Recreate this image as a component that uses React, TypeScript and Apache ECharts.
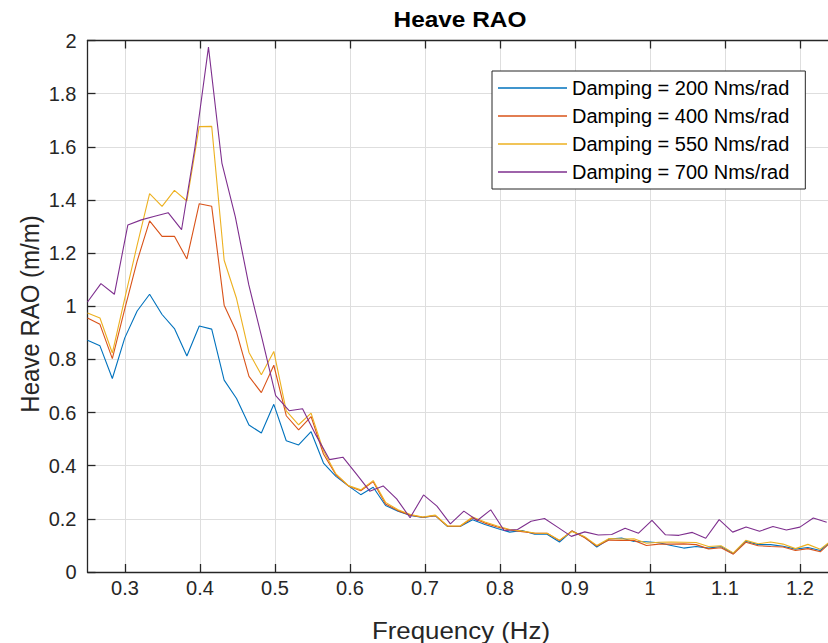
import React, { useEffect, useRef } from 'react';
import * as echarts from 'echarts';

// Frequencies (Hz) of the 200/400/550 Nms/rad runs
const freqA = [
  0.25, 0.2666, 0.2831, 0.2997, 0.3162, 0.3328, 0.3494, 0.3659, 0.3825, 0.399,
  0.4156, 0.4322, 0.4487, 0.4653, 0.4818, 0.4984, 0.515, 0.5315, 0.5481, 0.5646,
  0.5812, 0.5978, 0.6143, 0.6309, 0.6474, 0.664, 0.6806, 0.6971, 0.7137, 0.7302,
  0.7468, 0.7634, 0.7799, 0.7965, 0.813, 0.8296, 0.8462, 0.8627, 0.8793, 0.8958,
  0.9124, 0.929, 0.9455, 0.9621, 0.9786, 0.9952, 1.0118, 1.0283, 1.0449, 1.0614,
  1.078, 1.0946, 1.1111, 1.1277, 1.1442, 1.1608, 1.1774, 1.1939, 1.2105, 1.227,
  1.2436,
];

// Frequencies (Hz) of the 700 Nms/rad run
const freqB = [
  0.25, 0.2679, 0.2858, 0.3038, 0.3217, 0.3396, 0.3575, 0.3754, 0.3934, 0.4113,
  0.4292, 0.4471, 0.465, 0.483, 0.5009, 0.5188, 0.5367, 0.5546, 0.5726, 0.5905,
  0.6084, 0.6263, 0.6442, 0.6622, 0.6801, 0.698, 0.7159, 0.7338, 0.7518, 0.7697,
  0.7876, 0.8055, 0.8234, 0.8414, 0.8593, 0.8772, 0.8951, 0.913, 0.931, 0.9489,
  0.9668, 0.9847, 1.0026, 1.0206, 1.0385, 1.0564, 1.0743, 1.0922, 1.1102, 1.1281,
  1.146, 1.1639, 1.1818, 1.1998, 1.2177, 1.2356,
];

const rao200 = [
  0.872, 0.851, 0.728, 0.881, 0.982, 1.045, 0.969, 0.916, 0.813, 0.926,
  0.914, 0.722, 0.653, 0.553, 0.523, 0.631, 0.494, 0.478, 0.528, 0.41,
  0.36, 0.324, 0.291, 0.319, 0.25, 0.229, 0.213, 0.205, 0.212, 0.171,
  0.171, 0.197, 0.179, 0.164, 0.15, 0.156, 0.142, 0.142, 0.113, 0.154,
  0.132, 0.094, 0.124, 0.128, 0.115, 0.114, 0.11, 0.1, 0.09, 0.096,
  0.09, 0.096, 0.07, 0.116, 0.103, 0.103, 0.097, 0.086, 0.092, 0.081,
  0.12,
];

const rao400 = [
  0.956, 0.932, 0.803, 0.99, 1.17, 1.321, 1.263, 1.263, 1.178, 1.386,
  1.376, 1.004, 0.903, 0.736, 0.675, 0.778, 0.588, 0.535, 0.585, 0.444,
  0.366, 0.324, 0.306, 0.34, 0.256, 0.231, 0.214, 0.206, 0.212, 0.172,
  0.172, 0.203, 0.184, 0.169, 0.158, 0.152, 0.146, 0.146, 0.118, 0.155,
  0.13, 0.098, 0.12, 0.119, 0.119, 0.1, 0.105, 0.105, 0.106, 0.103,
  0.087, 0.091, 0.067, 0.112, 0.099, 0.096, 0.094, 0.081, 0.088, 0.076,
  0.118,
];

const rao550 = [
  0.975, 0.956, 0.824, 1.03, 1.23, 1.424, 1.376, 1.436, 1.396, 1.676,
  1.677, 1.173, 1.029, 0.826, 0.742, 0.83, 0.606, 0.554, 0.598, 0.456,
  0.369, 0.325, 0.309, 0.344, 0.262, 0.234, 0.216, 0.207, 0.214, 0.173,
  0.173, 0.207, 0.188, 0.173, 0.16, 0.154, 0.147, 0.146, 0.12, 0.152,
  0.134, 0.1, 0.126, 0.124, 0.125, 0.108, 0.112, 0.113, 0.112, 0.111,
  0.096, 0.099, 0.072, 0.119, 0.106, 0.113, 0.105, 0.088, 0.104, 0.086,
  0.122,
];

const rao700 = [
  1.016, 1.085, 1.045, 1.306, 1.325, 1.339, 1.352, 1.288, 1.6, 1.975,
  1.539, 1.336, 1.081, 0.875, 0.664, 0.607, 0.614, 0.515, 0.423, 0.432,
  0.369, 0.304, 0.324, 0.275, 0.204, 0.29, 0.248, 0.181, 0.229, 0.194,
  0.234, 0.156, 0.16, 0.191, 0.201, 0.168, 0.134, 0.151, 0.139, 0.141,
  0.165, 0.146, 0.194, 0.14, 0.138, 0.149, 0.127, 0.197, 0.15, 0.169,
  0.153, 0.171, 0.158, 0.169, 0.203, 0.187,
];

const xTicks = [0.3, 0.4, 0.5, 0.6, 0.7, 0.8, 0.9, 1, 1.1, 1.2];
const seriesNames = [
  'Damping = 200 Nms/rad',
  'Damping = 400 Nms/rad',
  'Damping = 550 Nms/rad',
  'Damping = 700 Nms/rad',
];
const seriesColors = ['#0072BD', '#D95319', '#EDB120', '#7E2F8E'];

export default function App() {
  const ref = useRef<HTMLDivElement>(null);

  useEffect(() => {
    if (!ref.current) return;
    const chart = echarts.init(ref.current, null, { renderer: 'svg' });
    const font = '"Liberation Sans", Arial, Helvetica, sans-serif';
    const axisColor = '#262626';
    const gridColor = '#dedede';
    const pair = (xs: number[], ys: number[]) => ys.map((y, i) => [xs[i], y]);
    const xMin = 0.25;
    const xMax = 1.2373;

    const dataSets = [
      pair(freqA, rao200),
      pair(freqA, rao400),
      pair(freqA, rao550),
      pair(freqB, rao700),
    ];

    const option: any = {
      animation: false,
      backgroundColor: '#ffffff',
      grid: {
        left: 87.5,
        top: 40.5,
        width: 740.5,
        height: 531.5,
        containLabel: false,
        outerBoundsMode: 'none',
      },
      xAxis: [
        {
          type: 'value',
          position: 'bottom',
          min: xMin,
          max: xMax,
          axisLine: { show: true, onZero: false, lineStyle: { color: axisColor, width: 1.3 } },
          axisTick: {
            show: true,
            inside: true,
            length: 8,
            customValues: xTicks,
            lineStyle: { color: axisColor, width: 1.3 },
          },
          axisLabel: {
            customValues: xTicks,
            color: axisColor,
            fontSize: 20,
            fontFamily: font,
            margin: 6,
          },
          splitLine: { show: true, lineStyle: { color: gridColor, width: 1 } },
        },
        {
          type: 'value',
          position: 'top',
          min: xMin,
          max: xMax,
          axisLine: { show: true, onZero: false, lineStyle: { color: axisColor, width: 1.3 } },
          axisTick: {
            show: true,
            inside: true,
            length: 8,
            customValues: xTicks,
            lineStyle: { color: axisColor, width: 1.3 },
          },
          axisLabel: { show: false },
          splitLine: { show: false },
        },
      ],
      yAxis: {
        type: 'value',
        min: 0,
        max: 2,
        interval: 0.2,
        axisLine: { show: true, onZero: false, lineStyle: { color: axisColor, width: 1.3 } },
        axisTick: { show: true, inside: true, length: 8, lineStyle: { color: axisColor, width: 1.3 } },
        axisLabel: { color: axisColor, fontSize: 20, fontFamily: font, margin: 11 },
        splitLine: { show: true, lineStyle: { color: gridColor, width: 1 } },
      },
      legend: {
        orient: 'vertical',
        left: 492,
        top: 71,
        data: seriesNames,
        selectedMode: false,
        icon: 'rect',
        backgroundColor: '#ffffff',
        borderColor: axisColor,
        borderWidth: 1,
        borderRadius: 0,
        padding: [7, 16, 7, 6],
        itemWidth: 69,
        itemHeight: 1.4,
        itemGap: 8,
        textStyle: { fontSize: 20, fontFamily: font, color: '#000000', lineHeight: 20 },
      },
      graphic: [
        {
          type: 'text',
          x: 460,
          y: 19.7,
          scaleX: 1.11,
          style: {
            text: 'Heave RAO',
            fontSize: 22,
            fontWeight: 'bold',
            fontFamily: font,
            fill: '#000000',
            textAlign: 'center',
            textVerticalAlign: 'middle',
            verticalAlign: 'middle',
          },
        },
        {
          type: 'text',
          x: 461,
          y: 630.5,
          scaleX: 1.1,
          style: {
            text: 'Frequency (Hz)',
            fontSize: 23.5,
            fontFamily: font,
            fill: axisColor,
            textAlign: 'center',
            textVerticalAlign: 'middle',
            verticalAlign: 'middle',
          },
        },
        {
          type: 'text',
          x: 30,
          y: 314,
          rotation: Math.PI / 2,
          scaleY: 1.1,
          style: {
            text: 'Heave RAO (m/m)',
            fontSize: 24,
            fontFamily: font,
            fill: axisColor,
            textAlign: 'center',
            textVerticalAlign: 'middle',
            verticalAlign: 'middle',
          },
        },
      ],
      series: seriesNames.map((name, i) => ({
        name,
        type: 'line',
        xAxisIndex: 0,
        data: dataSets[i],
        showSymbol: false,
        symbol: 'none',
        clip: true,
        color: seriesColors[i],
        itemStyle: { color: seriesColors[i] },
        lineStyle: { color: seriesColors[i], width: 1.1 },
        emphasis: { disabled: true },
      })),
    };

    chart.setOption(option);
    return () => chart.dispose();
  }, []);

  return (
    <div
      ref={ref}
      style={{ position: 'fixed', left: 0, top: 0, width: 828, height: 643 }}
    />
  );
}
